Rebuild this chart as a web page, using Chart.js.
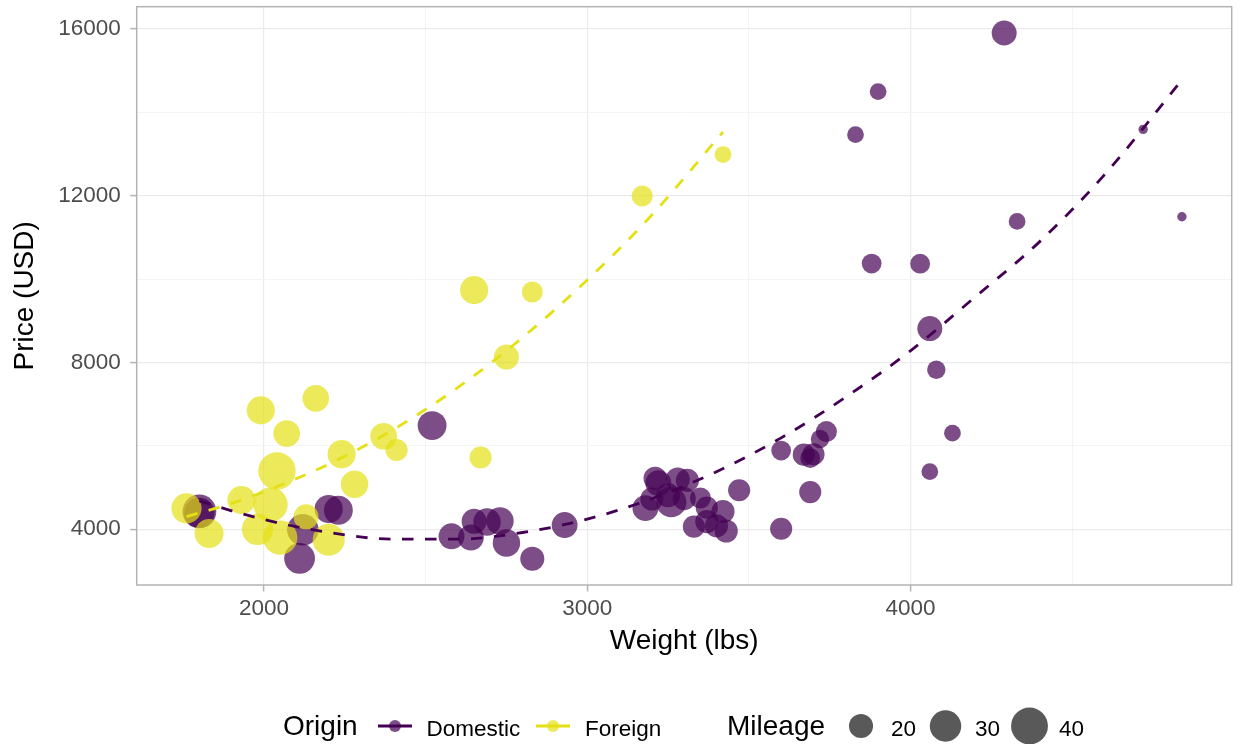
<!DOCTYPE html>
<html>
<head>
<meta charset="utf-8">
<title>Price vs weight</title>
<script src="https://cdn.jsdelivr.net/npm/chart.js@4.4.1/dist/chart.umd.min.js"></script>
<style>
  html, body { margin: 0; padding: 0; background: #fff; }
  #wrap { width: 1239px; height: 744px; }
</style>
</head>
<body>
<div id="wrap"><canvas id="chart" width="1239" height="744"></canvas></div>
<script>
// --- data (1978 auto data) ---
const domesticWeight = [2930, 3350, 2640, 3250, 4080, 3670, 2230, 3280, 3880, 3400,
  4330, 3900, 4290, 2110, 3690, 3180, 3220, 2750, 3430, 2120,
  3600, 3600, 3740, 1800, 2650, 4840, 4720, 3830, 2580, 4060,
  3720, 3370, 4130, 2830, 4060, 3310, 3300, 3690, 3370, 2730,
  4030, 3260, 1800, 2200, 2520, 3330, 3700, 3470, 3210, 3200,
  3420, 2690];
const domesticPrice = [4099, 4749, 3799, 4816, 7827, 5788, 4453, 5189, 10372, 4082,
  11385, 14500, 15906, 3299, 5705, 4504, 5104, 3667, 3955, 3984,
  4010, 5886, 6342, 4389, 4187, 11497, 13594, 13466, 3829, 5379,
  6165, 4516, 6303, 3291, 8814, 5172, 4733, 4890, 4181, 4195,
  10371, 4647, 4425, 4482, 6486, 4060, 5798, 4934, 5222, 4723,
  4424, 4172];
const domesticMpg = [22, 17, 22, 20, 15, 18, 26, 20, 16, 19,
  14, 14, 21, 29, 16, 22, 22, 24, 19, 30,
  18, 16, 17, 28, 21, 12, 12, 14, 22, 14,
  15, 18, 14, 20, 21, 19, 19, 18, 19, 24,
  16, 28, 34, 25, 26, 18, 18, 18, 19, 19,
  19, 24];

const foreignWeight = [2830, 2070, 2650, 2370, 2020, 2280, 2750, 2130, 2240, 1760,
  1980, 3420, 1830, 2050, 2410, 2200, 2670, 2160, 2040, 1930,
  1990, 3170];
const foreignPrice = [9690, 6295, 9735, 6229, 4589, 5079, 8129, 4296, 5799, 4499,
  3995, 12990, 3895, 3798, 5899, 3748, 5719, 7140, 5397, 4697,
  6850, 11995];
const foreignMpg = [17, 23, 25, 23, 35, 24, 21, 21, 25, 28,
  30, 14, 26, 35, 18, 31, 18, 23, 41, 25,
  25, 17];

// quadratic fit curves
const fitDomesticWeight = [1800, 1900, 2000, 2200, 2400, 2600, 2800, 3000, 3200,
  3400, 3600, 3800, 4000, 4200, 4400, 4600, 4840];
const fitDomesticPrice = [4680, 4440, 4230, 3920, 3760, 3760, 3920, 4240, 4730,
  5380, 6190, 7170, 8280, 9570, 10900, 12500, 14780];
const fitForeignWeight = [1760, 1900, 2000, 2200, 2400, 2600, 2800, 3000, 3200, 3420];
const fitForeignPrice = [4300, 4620, 4900, 5560, 6390, 7400, 8600, 9980, 11540, 13530];

// axes / legend
const xMajorTicks = [2000, 3000, 4000];
const xMinorTicks = [2500, 3500, 4500];
const yMajorTicks = [4000, 8000, 12000, 16000];
const yMinorTicks = [6000, 10000, 14000];
const originLabels = ['Domestic', 'Foreign'];
const mileageBreaks = [20, 30, 40];

const FONT = '"Liberation Sans", Arial, Helvetica, sans-serif';
const C_DOM = '#440154';
const C_FOR = '#E4E014';
const C_DOM_PT = 'rgba(68, 1, 84, 0.7)';
const C_FOR_PT = 'rgba(228, 224, 20, 0.7)';

const allMpg = domesticMpg.concat(foreignMpg);
const mpgMin = Math.min(...allMpg);
const mpgMax = Math.max(...allMpg);

// ggplot-like area scale for bubble size
function bubbleRadius(mpg) {
  const t = Math.max(0, (mpg - mpgMin) / (mpgMax - mpgMin));
  return 4.7 + 14 * Math.sqrt(t);
}

function toBubbles(ws, ps, ms) {
  return ws.map((w, i) => ({ x: w, y: ps[i], r: bubbleRadius(ms[i]) }));
}
function toLine(ws, ps) {
  return ws.map((w, i) => ({ x: w, y: ps[i] }));
}

const isMajor = (list, c) => c.tick && list.includes(c.tick.value);

// panel border + bottom legend
const ggExtras = {
  id: 'ggExtras',
  afterDraw(chart) {
    const ctx = chart.ctx;
    const a = chart.chartArea;
    ctx.save();
    ctx.strokeStyle = '#b3b3b3';
    ctx.lineWidth = 1.5;
    ctx.strokeRect(a.left, a.top, a.right - a.left, a.bottom - a.top);

    const midY = 726;
    ctx.textBaseline = 'alphabetic';
    ctx.textAlign = 'left';
    ctx.fillStyle = '#000';
    ctx.font = '28px ' + FONT;
    ctx.fillText('Origin', 283, 735);

    const keys = [
      { x: 378, text: 426.5, line: C_DOM, fill: C_DOM_PT },
      { x: 536, text: 585, line: C_FOR, fill: C_FOR_PT }
    ];
    keys.forEach((k, i) => {
      ctx.strokeStyle = k.line;
      ctx.lineWidth = 2.8;
      ctx.beginPath();
      ctx.moveTo(k.x, midY);
      ctx.lineTo(k.x + 34, midY);
      ctx.stroke();
      ctx.fillStyle = k.fill;
      ctx.beginPath();
      ctx.arc(k.x + 17, midY, 6, 0, Math.PI * 2);
      ctx.fill();
      ctx.fillStyle = '#000';
      ctx.font = '22.5px ' + FONT;
      ctx.fillText(originLabels[i], k.text, 736);
    });

    ctx.font = '28px ' + FONT;
    ctx.fillText('Mileage', 727, 735);
    const circleX = [861, 945.5, 1029.5];
    const labelX = [891, 975, 1059];
    mileageBreaks.forEach((m, i) => {
      ctx.fillStyle = 'rgba(0, 0, 0, 0.65)';
      ctx.beginPath();
      ctx.arc(circleX[i], midY, bubbleRadius(m), 0, Math.PI * 2);
      ctx.fill();
      ctx.fillStyle = '#000';
      ctx.font = '22.5px ' + FONT;
      ctx.fillText(String(m), labelX[i], 736);
    });
    ctx.restore();
  }
};

Chart.defaults.font.family = FONT;

new Chart(document.getElementById('chart'), {
  type: 'bubble',
  data: {
    datasets: [
      {
        type: 'line', label: 'Foreign fit', data: toLine(fitForeignWeight, fitForeignPrice),
        borderColor: C_FOR, borderWidth: 2.8, borderDash: [11.5, 11.5],
        pointRadius: 0, fill: false, cubicInterpolationMode: 'monotone', order: 1
      },
      {
        type: 'line', label: 'Domestic fit', data: toLine(fitDomesticWeight, fitDomesticPrice),
        borderColor: C_DOM, borderWidth: 2.8, borderDash: [11.5, 11.5],
        pointRadius: 0, fill: false, cubicInterpolationMode: 'monotone', order: 2
      },
      {
        label: 'Foreign', data: toBubbles(foreignWeight, foreignPrice, foreignMpg),
        backgroundColor: C_FOR_PT, borderWidth: 0, order: 3
      },
      {
        label: 'Domestic', data: toBubbles(domesticWeight, domesticPrice, domesticMpg),
        backgroundColor: C_DOM_PT, borderWidth: 0, order: 4
      }
    ]
  },
  options: {
    responsive: false,
    animation: false,
    devicePixelRatio: 1,
    layout: { autoPadding: false, padding: { left: 8, right: 7.3, top: 6.7, bottom: 86.2 } },
    plugins: { legend: { display: false }, tooltip: { enabled: false } },
    scales: {
      x: {
        type: 'linear', min: 1606, max: 4994,
        afterBuildTicks: axis => {
          axis.ticks = xMajorTicks.concat(xMinorTicks).sort((p, q) => p - q).map(v => ({ value: v }));
        },
        afterFit: axis => {
          axis.height = 72.8;
          axis.paddingLeft = 0;
          axis.paddingRight = 0;
        },
        border: { display: false },
        grid: {
          color: c => isMajor(xMajorTicks, c) ? '#ebebeb' : '#f4f4f4',
          lineWidth: c => isMajor(xMajorTicks, c) ? 1.2 : 1,
          tickColor: c => isMajor(xMajorTicks, c) ? '#b3b3b3' : 'rgba(0,0,0,0)',
          tickLength: 6.5,
          tickWidth: 1.5
        },
        ticks: {
          autoSkip: false, maxRotation: 0, padding: 3.5, color: '#4d4d4d',
          font: { size: 22.5 },
          callback: v => xMajorTicks.includes(v) ? String(v) : ''
        },
        title: { display: true, text: 'Weight (lbs)', color: '#000', font: { size: 28 }, padding: 0 }
      },
      y: {
        type: 'linear', min: 2660, max: 16537,
        afterBuildTicks: axis => {
          axis.ticks = yMajorTicks.concat(yMinorTicks).sort((p, q) => p - q).map(v => ({ value: v }));
        },
        afterFit: axis => {
          axis.width = 128.7;
          axis.paddingTop = 0;
          axis.paddingBottom = 0;
        },
        border: { display: false },
        grid: {
          color: c => isMajor(yMajorTicks, c) ? '#ebebeb' : '#f4f4f4',
          lineWidth: c => isMajor(yMajorTicks, c) ? 1.2 : 1,
          tickColor: c => isMajor(yMajorTicks, c) ? '#b3b3b3' : 'rgba(0,0,0,0)',
          tickLength: 6.5,
          tickWidth: 1.5
        },
        ticks: {
          autoSkip: false, padding: 9.5, color: '#4d4d4d',
          font: { size: 22.5 },
          callback: v => yMajorTicks.includes(v) ? String(v) : ''
        },
        title: { display: true, text: 'Price (USD)', color: '#000', font: { size: 28 }, padding: 0 }
      }
    }
  },
  plugins: [ggExtras]
});
</script>
</body>
</html>
